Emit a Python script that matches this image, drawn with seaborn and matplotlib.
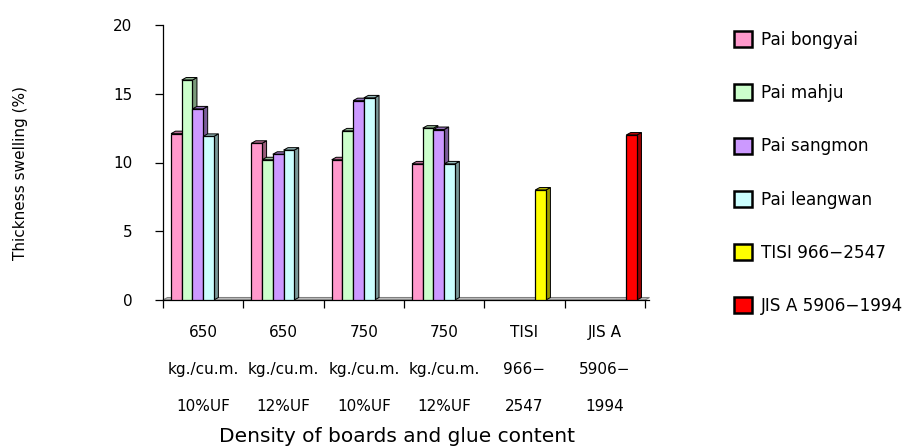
import matplotlib
matplotlib.use("Agg")
import matplotlib.pyplot as plt
from matplotlib.patches import Polygon, Patch
import matplotlib.colors as mcolors
import numpy as np
import pandas as pd
import seaborn as sns

# --- data ---------------------------------------------------------------
groups = [
    "650\nkg./cu.m.\n10%UF",
    "650\nkg./cu.m.\n12%UF",
    "750\nkg./cu.m.\n10%UF",
    "750\nkg./cu.m.\n12%UF",
    "TISI\n966\u2212\n2547",
    "JIS A\n5906\u2212\n1994",
]
series = ["Pai bongyai", "Pai mahju", "Pai sangmon", "Pai leangwan",
          "TISI 966\u22122547", "JIS A 5906\u22121994"]
pai_bongyai = [12.1, 11.4, 10.2, 9.9, 0, 0]
pai_mahju = [16.0, 10.2, 12.3, 12.5, 0, 0]
pai_sangmon = [13.9, 10.6, 14.5, 12.4, 0, 0]
pai_leangwan = [11.9, 10.9, 14.7, 9.9, 0, 0]
tisi_std = [0, 0, 0, 0, 8.0, 0]
jis_std = [0, 0, 0, 0, 0, 12.0]
colors = ["#FF99CC", "#CCFFCC", "#CC99FF", "#CCFFFF", "#FFFF00", "#FF0000"]

values = [pai_bongyai, pai_mahju, pai_sangmon, pai_leangwan, tisi_std, jis_std]
rows = []
for s, vals in zip(series, values):
    for g, v in zip(groups, vals):
        rows.append({"group": g, "series": s, "value": v})
df = pd.DataFrame(rows)

# --- figure -------------------------------------------------------------
sns.set_theme(style="white")
plt.rcParams["font.family"] = ["DejaVu Sans"]
plt.rcParams["text.color"] = "black"

fig = plt.figure(figsize=(9.07, 4.47), dpi=100)
ax = fig.add_axes([163 / 907, 147 / 447, 482 / 907, 275 / 447])

sns.barplot(data=df, x="group", y="value", hue="series",
            order=groups, hue_order=series, palette=colors,
            width=0.8, dodge=True, edgecolor="black", linewidth=0.9,
            saturation=1, legend=False, ax=ax, zorder=3)

ax.set_xlim(-0.5, 5.5)
ax.set_ylim(0, 20)

# depth of the pseudo-3D extrusion, in data units
dx, dy = 0.056, 0.18


def shade(c, f):
    r, g, b = mcolors.to_rgb(c)
    return (r * f, g * f, b * f)


# floor slab under the columns
floor = Polygon([(-0.5, 0), (5.5, 0), (5.5 + dx, dy), (-0.5 + dx, dy)],
                closed=True, facecolor="#C0C0C0", edgecolor="#808080",
                linewidth=0.8, zorder=1, clip_on=False)
ax.add_patch(floor)

for bar in list(ax.patches):
    if bar is floor:
        continue
    h = bar.get_height()
    if h <= 0:
        bar.set_visible(False)
        continue
    x = bar.get_x()
    w = bar.get_width()
    fc = bar.get_facecolor()
    side = Polygon([(x + w, 0), (x + w + dx, dy), (x + w + dx, h + dy), (x + w, h)],
                   closed=True, facecolor=shade(fc, 0.6), edgecolor="black",
                   linewidth=0.7, zorder=2.9, clip_on=False)
    top = Polygon([(x, h), (x + w, h), (x + w + dx, h + dy), (x + dx, h + dy)],
                  closed=True, facecolor=shade(fc, 0.72), edgecolor="black",
                  linewidth=0.7, zorder=2.9, clip_on=False)
    ax.add_patch(side)
    ax.add_patch(top)

# axes styling
for sp in ["top", "right"]:
    ax.spines[sp].set_visible(False)
ax.spines["left"].set_color("black")
ax.spines["left"].set_linewidth(0.9)
ax.spines["bottom"].set_color("black")
ax.spines["bottom"].set_linewidth(0.9)
ax.spines["bottom"].set_bounds(-0.5, 5.5 + dx)

ax.set_yticks([0, 5, 10, 15, 20])
ax.tick_params(axis="y", which="major", left=True, length=6, width=0.9,
               color="black", pad=16, labelsize=11, labelcolor="black")
ax.set_xticks(range(len(groups)))
ax.set_xticklabels(groups, linespacing=2.85)
ax.set_xticks(np.arange(-0.5, 6.0, 1.0), minor=True)
ax.tick_params(axis="x", which="major", bottom=False, length=0, pad=18,
               labelsize=11, labelcolor="black")
ax.tick_params(axis="x", which="minor", bottom=True, length=6, width=0.9,
               color="black")
ax.grid(False)

ax.set_xlabel("Density of boards and glue content", fontsize=14.5, color="black")
ax.xaxis.set_label_coords(0.485, -0.46)
ax.set_ylabel("Thickness swelling (%)", fontsize=11, color="black")
ax.yaxis.set_label_coords(-0.28, 0.46)

# legend with square swatches on the right
handles = [Patch(facecolor=c, edgecolor="black", linewidth=1.8) for c in colors]
fig.legend(handles, series, loc="upper left",
           bbox_to_anchor=(734 / 907, 1 - 31 / 447), frameon=False,
           fontsize=12.2, labelcolor="black", handlelength=1.08, handleheight=1.08,
           handletextpad=0.5, labelspacing=2.08, borderpad=0, borderaxespad=0)

fig.savefig("out.png", dpi=100, facecolor="white")
